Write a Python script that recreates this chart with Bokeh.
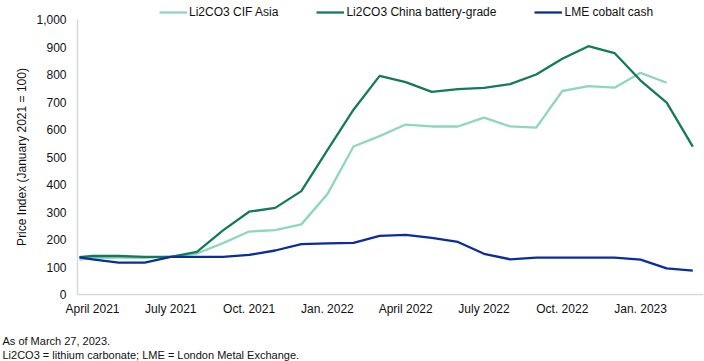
from bokeh.plotting import figure
from bokeh.models import (Range1d, FixedTicker, NumeralTickFormatter, Legend, LegendItem,
                          Label, ColumnDataSource)
from bokeh.embed import file_html
from bokeh.resources import INLINE

# ---- data ----
dates = ["2021-03-16", "2021-04-01", "2021-05-01", "2021-06-01", "2021-07-01", "2021-08-01",
         "2021-09-01", "2021-10-01", "2021-11-01", "2021-12-01", "2022-01-01", "2022-02-01",
         "2022-03-01", "2022-04-01", "2022-05-01", "2022-06-01", "2022-07-01", "2022-08-01",
         "2022-09-01", "2022-10-01", "2022-11-01", "2022-12-01", "2023-01-01", "2023-02-01",
         "2023-03-01"]
cif_asia = [127, 133, 134, 133, 138, 149, 187, 229, 234, 255, 365, 538, 576, 618, 611, 611,
            643, 611, 607, 740, 758, 752, 806, 770, None]
china_battery = [136, 140, 140, 137, 137, 155, 233, 301, 315, 376, 525, 672, 795, 772, 737,
                 747, 751, 765, 800, 857, 903, 878, 778, 698, 538]
lme_cobalt = [135, 128, 116, 116, 137, 137, 137, 144, 160, 183, 186, 188, 213, 217, 206, 191,
              148, 128, 134, 134, 134, 134, 127, 95, 87]
tick_months = [0, 3, 6, 9, 12, 15, 18, 21]
tick_labels = ["April 2021", "July 2021", "Oct. 2021", "Jan. 2022", "April 2022",
               "July 2022", "Oct. 2022", "Jan. 2023"]
y_ticks = [0, 100, 200, 300, 400, 500, 600, 700, 800, 900, 1000]
series_names = ["Li2CO3 CIF Asia", "Li2CO3 China battery-grade", "LME cobalt cash"]
colors = ["#8fd6bf", "#137a5c", "#0b2d9c"]
notes = ["As of March 27, 2023.", "Li2CO3 = lithium carbonate; LME = London Metal Exchange."]


def month_index(d):
    y, m, day = (int(v) for v in d.split("-"))
    return (y - 2021) * 12 + (m - 4) + (day - 1) / 30.0


xs = [month_index(d) for d in dates]

FONT = "Liberation Sans"
W, H = 704, 361
# plotting area (pixels in the canvas) and its data extent
AX_L, AX_R, AX_T, AX_B = 77, 703, 19, 294
X0, X1 = -0.575, 23.41
Y0, Y1 = 0, 1000
xpp = (X1 - X0) / (AX_R - AX_L)
ypp = (Y1 - Y0) / (AX_B - AX_T)

# the frame covers the whole canvas; axes are pinned at the plot-area edges
p = figure(width=W, height=H, output_backend="svg", toolbar_location=None,
           x_range=Range1d(X0 - AX_L * xpp, X1 + (W - AX_R) * xpp),
           y_range=Range1d(Y0 - (H - AX_B) * ypp, Y1 + AX_T * ypp),
           min_border=0)
p.outline_line_color = None
p.xgrid.visible = False
p.ygrid.visible = False

renderers = []
for name, vals, col in zip(series_names, [cif_asia, china_battery, lme_cobalt], colors):
    px = [x for x, v in zip(xs, vals) if v is not None]
    py = [v for v in vals if v is not None]
    src = ColumnDataSource(dict(x=px, y=py))
    r = p.line("x", "y", source=src, line_color=col, line_width=2.3, line_join="round")
    renderers.append(r)

# axes
for ax in (p.xaxis[0], p.yaxis[0]):
    ax.axis_line_color = "#d9d9d9"
    ax.axis_line_width = 1.5
    ax.major_tick_line_color = None
    ax.minor_tick_line_color = None
    ax.major_tick_out = 0
    ax.major_tick_in = 0
    ax.major_label_text_font = FONT
    ax.major_label_text_font_size = "12px"
    ax.major_label_text_color = "#111111"

p.xaxis.fixed_location = Y0
p.xaxis.bounds = (X0, X1)
p.xaxis.ticker = FixedTicker(ticks=tick_months)
p.xaxis.major_label_overrides = {m: l for m, l in zip(tick_months, tick_labels)}
p.xaxis.major_label_standoff = 7

p.yaxis.fixed_location = X0
p.yaxis.bounds = (Y0, Y1)
p.yaxis.ticker = FixedTicker(ticks=y_ticks)
p.yaxis.formatter = NumeralTickFormatter(format="0,0")
p.yaxis.major_label_standoff = 11
p.yaxis.axis_label = "Price Index (January 2021 = 100)"
p.yaxis.axis_label_text_font = FONT
p.yaxis.axis_label_text_font_size = "12px"
p.yaxis.axis_label_text_font_style = "normal"
p.yaxis.axis_label_text_color = "#111111"
p.yaxis.axis_label_standoff = 4

legend = Legend(items=[LegendItem(label=n, renderers=[r]) for n, r in zip(series_names, renderers)],
                orientation="horizontal", location=(159, H - AX_T),
                glyph_width=28, glyph_height=12, label_height=12, label_standoff=2,
                spacing=38, padding=0, margin=0, border_line_color=None,
                background_fill_alpha=0,
                label_text_font=FONT, label_text_font_size="12px", label_text_color="#111111")
p.add_layout(legend, "center")

for i, t in enumerate(notes):
    p.add_layout(Label(x=2, y=21 - 14 * i, x_units="screen", y_units="screen", text=t,
                       text_font=FONT, text_font_size="11px", text_baseline="middle",
                       text_color="#111111"))

open("out.html", "w").write(file_html(p, INLINE))
